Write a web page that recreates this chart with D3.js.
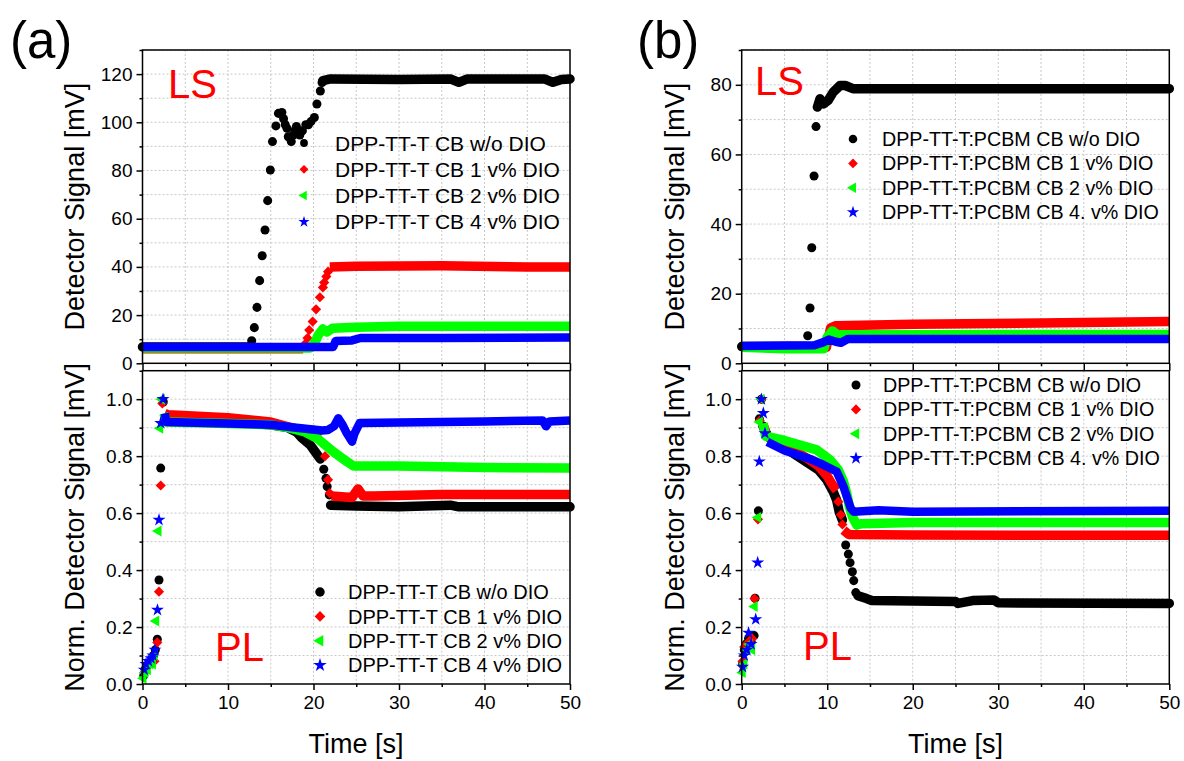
<!DOCTYPE html>
<html lang="en">
<head>
<meta charset="UTF-8">
<title>LS / PL detector signal</title>
<script src="https://d3js.org/d3.v7.min.js"></script>
<style>
    body { margin: 0; background: #fff; }
    text { font-family: "Liberation Sans", Arial, sans-serif; fill: #000; }
    .axis path, .axis line { stroke: #000; stroke-width: 1.5; }
    .grid line { stroke: #c8c8c8; stroke-width: 1; stroke-dasharray: 2,2; }
</style>
</head>
<body>
<script>
// ---- data: [time s, value] ----
// null splits a dense band; "dots" are the separate markers
const seriesNames = ["w/o DIO", "1 v% DIO", "2 v% DIO", "4 v% DIO"];
const legendA = ["DPP-TT-T CB w/o DIO", "DPP-TT-T CB 1 v% DIO", "DPP-TT-T CB 2 v% DIO", "DPP-TT-T CB 4 v% DIO"];
const legendB = ["DPP-TT-T:PCBM CB w/o DIO", "DPP-TT-T:PCBM CB 1 v% DIO", "DPP-TT-T:PCBM CB 2 v% DIO", "DPP-TT-T:PCBM CB 4. v% DIO"];

const timeTicks = [0, 10, 20, 30, 40, 50];
const lsTicksA = [0, 20, 40, 60, 80, 100, 120];
const lsTicksB = [0, 20, 40, 60, 80];
const plTicks = [0, 0.2, 0.4, 0.6, 0.8, 1.0];

// (a) LS
const aLS0band = [[0,6.8],[12.5,6.8],null,[21.1,117.3],[22,118],[30,117.8],[36,118],[37,116.6],[38,118],[47,118],[48,116.6],[49,117.8],[50,118]];
const aLS0dots = [[12.77,9.4],[13.08,14.8],[13.39,23.2],[13.7,34.3],[14.0,44.6],[14.33,55.3],[14.64,67.5],[14.95,80.2],[15.2,92],[15.6,98.5],[15.9,103.7],[16.3,104.1],[16.5,101.5],[16.7,99],[16.9,97.5],[17.05,94],[17.4,92],[17.6,94.5],[17.8,96.5],[18.0,98.3],[18.2,96],[18.4,94.7],[18.7,96.5],[19.1,99],[19.4,99],[19.7,100.3],[20.1,102],[20.4,107.6],[20.8,113],[21.0,116.5]];
const aLS1band = [[0,6.0],[18.8,6.0],null,[21.9,40],[25,40.3],[35,40.5],[45,40],[50,40]];
const aLS1dots = [[19.0,8],[19.3,10.5],[19.5,13.8],[19.9,17.3],[20.3,22.4],[20.75,27.4],[21.1,31.5],[21.25,33.5],[21.5,36],[21.7,38]];
const aLS2band = [[0,6.3],[19.6,6.3],[20.2,9],[20.6,12],[21.1,14.2],[21.6,13],[22.2,14.5],[25,15],[30,15.4],[40,15.4],[50,15.4]];
const aLS3band = [[0,6.8],[22.3,6.8],[22.6,9.3],[24.5,9.5],[25.5,10.5],[35,10.5],[50,10.7]];

// (a) PL
const aPL0band = [[2.6,0.93],[3,0.925],[10,0.92],[15,0.91],[17,0.9],[18,0.885],[18.6,0.865],[19.6,0.84],[20.2,0.815],[20.8,0.79],null,[22.0,0.628],[25,0.625],[30,0.622],[36,0.628],[37,0.622],[50,0.622]];
const aPL0dots = [[0.15,0.03],[0.3,0.05],[0.5,0.06],[0.7,0.07],[0.9,0.08],[1.1,0.08],[1.3,0.1],[1.5,0.12],[1.73,0.157],[1.93,0.365],[2.13,0.758],[2.43,0.99],[21.2,0.754],[21.46,0.722],[21.6,0.693],[21.85,0.664]];
const aPL1band = [[2.6,0.95],[3,0.945],[10,0.935],[15,0.92],[18,0.895],[20,0.89],[21.0,0.885],null,[22.1,0.66],[24.5,0.655],[25.2,0.685],[25.8,0.66],[27,0.66],[35,0.665],[50,0.665]];
const aPL1dots = [[0.2,0.04],[0.5,0.06],[0.8,0.08],[1.1,0.09],[1.4,0.08],[1.73,0.146],[1.93,0.324],[2.13,0.697],[2.32,0.985],[21.35,0.8],[21.7,0.717],[21.9,0.67]];
const aPL2band = [[2.5,0.95],[2.8,0.92],[10,0.915],[15,0.91],[17,0.9],[19,0.885],[20.4,0.863],[22.3,0.816],[23.9,0.781],[24.7,0.765],[30,0.765],[40,0.76],[50,0.758]];
const aPL2dots = [[0.1,0.02],[0.3,0.04],[0.6,0.05],[0.9,0.07],[1.2,0.07],[1.4,0.1],[1.58,0.221],[1.85,0.537],[2.05,0.898],[2.25,1.0]];
const aPL3band = [[2.6,0.95],[2.8,0.92],[10,0.915],[15,0.91],[18,0.9],[21,0.89],[21.7,0.892],[22.4,0.905],[22.9,0.933],[23.4,0.91],[23.9,0.88],[24.5,0.851],[24.8,0.88],[25.4,0.916],[30,0.918],[40,0.922],[46.8,0.925],[47.2,0.905],[47.6,0.922],[50,0.925]];
const aPL3dots = [[0.2,0.05],[0.4,0.07],[0.7,0.08],[1.0,0.09],[1.2,0.1],[1.46,0.12],[1.75,0.26],[1.93,0.576],[2.13,0.916],[2.4,1.0]];

// (b) LS
const bLS0band = [[0,4.8],[7.5,4.8],null,[8.85,73.6],[9.16,76],[9.55,74.5],[10.1,75.5],[10.7,77.9],[11.5,79.8],[12.1,79.8],[13,78.9],[20,78.9],[50,78.9]];
const bLS0dots = [[7.72,7.9],[7.99,15.9],[8.19,33.2],[8.46,53.8],[8.69,68]];
const bLS1band = [[0,4.6],[9.9,4.6],[10.4,10.2],[11,10.8],[20,11.2],[35,11.6],[50,12]];
const bLS2band = [[0,4.6],[5,4.2],[9.6,4.2],[10.0,7.5],[10.6,9.3],[11.2,8.2],[15,8.2],[30,8.3],[50,8.3]];
const bLS3band = [[0,5],[8.5,5.2],[9.5,6],[10.2,6.8],[11,6.2],[11.6,5.9],[12.4,7],[20,7],[50,7]];

// (b) PL
const bPL0band = [[2.5,0.905],[3,0.87],[5,0.83],[7.8,0.775],[8.96,0.752],[9.94,0.717],[10.7,0.675],[11.1,0.646],[11.4,0.605],[11.77,0.576],null,[13.6,0.31],[14.6,0.3],[15.2,0.293],[25,0.29],[25.3,0.283],[27,0.293],[29.5,0.295],[30,0.285],[50,0.283]];
const bPL0dots = [[0.1,0.07],[0.3,0.12],[0.5,0.14],[0.8,0.16],[1.1,0.15],[1.45,0.17],[1.56,0.301],[1.95,0.608],[2.06,0.931],[2.3,1.0],[12.16,0.488],[12.47,0.456],[12.67,0.426],[12.94,0.394],[13.1,0.363],[13.34,0.321]];
const bPL1band = [[2.5,0.91],[3,0.87],[5,0.84],[7.8,0.79],[9,0.765],[10,0.73],[10.6,0.7],[11.1,0.68],null,[11.9,0.54],[12.5,0.525],[20,0.523],[50,0.522]];
const bPL1dots = [[0.1,0.08],[0.3,0.13],[0.6,0.14],[0.9,0.15],[1.2,0.16],[1.5,0.3],[1.9,0.578],[2.1,0.925],[2.3,1.0],[11.3,0.64],[11.6,0.594],[11.78,0.56]];
const bPL2band = [[2.5,0.915],[2.8,0.87],[5,0.855],[8.77,0.822],[10.33,0.787],[11.3,0.752],[11.9,0.711],[12.28,0.67],[12.59,0.623],[12.94,0.588],[13.45,0.558],[14,0.563],[20,0.567],[50,0.567]];
const bPL2dots = [[0.1,0.04],[0.3,0.07],[0.6,0.12],[0.9,0.14],[1.2,0.12],[1.5,0.272],[1.9,0.585],[2.1,0.92],[2.3,1.0]];
const bPL3band = [[3,0.85],[5,0.82],[8,0.79],[9.5,0.77],[11.1,0.746],[11.9,0.693],[12.43,0.646],[12.75,0.617],[13.1,0.605],[16,0.61],[20,0.605],[50,0.608]];
const bPL3dots = [[0.1,0.06],[0.3,0.1],[0.6,0.12],[0.8,0.18],[1.1,0.14],[1.64,0.227],[1.87,0.426],[2.06,0.781],[2.3,1.0],[2.53,0.951],[2.72,0.88]];

// ---- styles ----
const colors = ["#000000", "#ff0000", "#00ff00", "#0000ff"];
const symbols = [
    {type: d3.symbolCircle, size: 64, rot: 0},
    {type: d3.symbolSquare, size: 52, rot: 45},
    {type: d3.symbolTriangle, size: 52, rot: -90},
    {type: d3.symbolStar, size: 52, rot: 0}
];
const bandWidth = [9.5, 9.5, 9.5, 8.5];

const svg = d3.select("body").append("svg")
    .attr("width", 1184)
    .attr("height", 761);

function panel(o) {
    const x = d3.scaleLinear().domain([0, 50]).range([o.x0, o.x1]);
    const y = d3.scaleLinear().domain(o.ydom).range([o.y1, o.y0]);
    const g = svg.append("g");

    // grid at major + minor
    const gx = d3.range(0, 50.001, 5);
    const gy = d3.range(o.ydom[0], o.ydom[1] + 1e-9, o.minor).filter(v => v > 0);
    const grid = g.append("g").attr("class", "grid");
    grid.selectAll(".gv").data(gx.filter(v => v > 0 && v < 50)).enter().append("line")
        .attr("x1", d => x(d)).attr("x2", d => x(d)).attr("y1", o.y0).attr("y2", o.y1);
    grid.selectAll(".gh").data(gy).enter().append("line")
        .attr("y1", d => y(d)).attr("y2", d => y(d)).attr("x1", o.x0).attr("x2", o.x1);

    // data: bands then markers
    const line = d3.line().defined(d => d !== null).x(d => x(d[0])).y(d => y(d[1]));
    o.series.forEach((s, i) => {
        if (s.band) {
            g.append("path").attr("d", line(s.band))
                .attr("fill", "none").attr("stroke", colors[i])
                .attr("stroke-width", bandWidth[i])
                .attr("stroke-linejoin", "round")
                .attr("stroke-linecap", i === 0 ? "round" : "butt");
        }
        const pts = s.dots || [];
        const sym = d3.symbol().type(symbols[i].type).size(symbols[i].size);
        g.selectAll(null).data(pts).enter().append("path")
            .attr("d", sym)
            .attr("fill", colors[i])
            .attr("transform", d => `translate(${x(d[0])},${y(d[1])}) rotate(${symbols[i].rot})`);
    });

    // frame
    g.append("rect").attr("x", o.x0).attr("y", o.y0)
        .attr("width", o.x1 - o.x0).attr("height", o.y1 - o.y0)
        .attr("fill", "none").attr("stroke", "#000").attr("stroke-width", 1.5);

    // y axis
    const ya = g.append("g").attr("class", "axis").attr("transform", `translate(${o.x0},0)`)
        .call(d3.axisLeft(y).tickValues(o.yticks).tickSize(6).tickPadding(4).tickFormat(o.yfmt));
    ya.select(".domain").remove();
    ya.selectAll("text").style("font-size", "19px");
    const ym = g.append("g").attr("class", "axis").attr("transform", `translate(${o.x0},0)`)
        .call(d3.axisLeft(y).tickValues(gy.filter(v => !o.yticks.some(t => Math.abs(t - v) < 1e-9))).tickSize(3).tickFormat(""));
    ym.select(".domain").remove();

    // x axis
    const xa = g.append("g").attr("class", "axis").attr("transform", `translate(0,${o.y1})`)
        .call(d3.axisBottom(x).tickValues(timeTicks).tickSize(o.xlabels ? 6 : 7.5).tickPadding(6)
            .tickFormat(o.xlabels ? d3.format("d") : ""));
    xa.select(".domain").remove();
    xa.selectAll("text").style("font-size", "19px");
    const xm = g.append("g").attr("class", "axis").attr("transform", `translate(0,${o.y1})`)
        .call(d3.axisBottom(x).tickValues([5, 15, 25, 35, 45]).tickSize(3).tickFormat(""));
    xm.select(".domain").remove();

    // axis title
    g.append("text")
        .attr("transform", `translate(${o.titleX},${(o.y0 + o.y1) / 2}) rotate(-90)`)
        .attr("text-anchor", "middle").style("font-size", "27px")
        .text(o.ytitle);

    // tag
    g.append("text").attr("x", o.tag[0]).attr("y", o.tag[1])
        .style("font-size", "40px").style("fill", "#ff0000").text(o.tag[2]);

    // legend
    const L = o.legend;
    L.names.forEach((nm, i) => {
        const cy = L.y + i * L.dy;
        const sym = d3.symbol().type(symbols[i].type).size(symbols[i].size * L.scale);
        g.append("path").attr("d", sym).attr("fill", colors[i])
            .attr("transform", `translate(${L.sx},${cy}) rotate(${symbols[i].rot})`);
        g.append("text").attr("x", L.tx).attr("y", cy).attr("dy", "0.36em")
            .style("font-size", L.fs + "px").text(nm);
    });
}

const fmt0 = d3.format("d");
const fmt1 = d3.format(".1f");

panel({
    x0: 142.5, x1: 570, y0: 50, y1: 363.3, ydom: [0, 130], yticks: lsTicksA, minor: 10, yfmt: fmt0,
    xlabels: false, titleX: 84, ytitle: "Detector Signal [mV]", tag: [168, 98, "LS"],
    series: [
        {band: aLS0band, dots: aLS0dots}, {band: aLS1band, dots: aLS1dots},
        {band: aLS2band}, {band: aLS3band}
    ],
    legend: {names: legendA, sx: 304, tx: 335, y: 143, dy: 26.3, fs: 21, scale: 0.75}
});
panel({
    x0: 142.5, x1: 570, y0: 370.7, y1: 684, ydom: [0, 1.1], yticks: plTicks, minor: 0.1, yfmt: fmt1,
    xlabels: true, titleX: 84, ytitle: "Norm. Detector Signal [mV]", tag: [215, 661, "PL"],
    series: [
        {band: aPL0band, dots: aPL0dots}, {band: aPL1band, dots: aPL1dots},
        {band: aPL2band, dots: aPL2dots}, {band: aPL3band, dots: aPL3dots}
    ],
    legend: {names: legendA, sx: 320, tx: 348, y: 592, dy: 24.4, fs: 20, scale: 1.1}
});
panel({
    x0: 741.7, x1: 1169.3, y0: 50, y1: 363.3, ydom: [0, 90], yticks: lsTicksB, minor: 10, yfmt: fmt0,
    xlabels: false, titleX: 684, ytitle: "Detector Signal [mV]", tag: [755, 95, "LS"],
    series: [
        {band: bLS0band, dots: bLS0dots}, {band: bLS1band},
        {band: bLS2band}, {band: bLS3band}
    ],
    legend: {names: legendB, sx: 853, tx: 882, y: 139, dy: 24.4, fs: 19.7, scale: 0.9}
});
panel({
    x0: 741.7, x1: 1169.3, y0: 370.7, y1: 684, ydom: [0, 1.1], yticks: plTicks, minor: 0.1, yfmt: fmt1,
    xlabels: true, titleX: 684, ytitle: "Norm. Detector Signal [mV]", tag: [803, 660, "PL"],
    series: [
        {band: bPL0band, dots: bPL0dots}, {band: bPL1band, dots: bPL1dots},
        {band: bPL2band, dots: bPL2dots}, {band: bPL3band, dots: bPL3dots}
    ],
    legend: {names: legendB, sx: 856, tx: 883, y: 385, dy: 24.4, fs: 19.7, scale: 1.0}
});

// x titles and panel letters
[[356, "Time [s]"], [955.5, "Time [s]"]].forEach(d => {
    svg.append("text").attr("x", d[0]).attr("y", 753).attr("text-anchor", "middle")
        .style("font-size", "27px").text(d[1]);
});
svg.append("text").attr("x", 10).attr("y", 58).style("font-size", "51px").text("(a)");
svg.append("text").attr("x", 637).attr("y", 58).style("font-size", "51px").text("(b)");
</script>
</body>
</html>
